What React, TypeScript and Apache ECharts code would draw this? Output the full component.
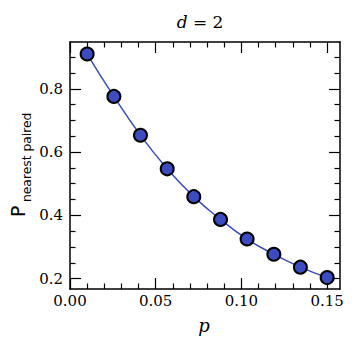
import React, { useEffect, useRef } from "react";
import * as echarts from "echarts";

const pValues = [0.01, 0.0256, 0.0411, 0.0567, 0.0722, 0.0878, 0.1033, 0.1189, 0.1344, 0.15];
const probValues = [0.91, 0.776, 0.653, 0.547, 0.459, 0.387, 0.325, 0.277, 0.236, 0.203];
const xMajorTicks = [0, 0.05, 0.1, 0.15];
const xMinorTicks = [0.01, 0.02, 0.03, 0.04, 0.06, 0.07, 0.08, 0.09, 0.11, 0.12, 0.13, 0.14];
const yMajorTicks = [0.2, 0.4, 0.6, 0.8];
const yMinorTicks = [0.25, 0.3, 0.35, 0.45, 0.5, 0.55, 0.65, 0.7, 0.75, 0.85, 0.9];
const xLabels = ["0.00", "0.05", "0.10", "0.15"];
const yLabels = ["0.2", "0.4", "0.6", "0.8"];

const X_MIN = 0;
const X_MAX = 0.1575;
const Y_MIN = 0.167;
const Y_MAX = 0.948;

const BLUE = "#3b4cc0";
const SERIF = "DejaVu Serif";
const SANS = "DejaVu Sans";

export default function App() {
  const ref = useRef<HTMLDivElement>(null);
  useEffect(() => {
    document.body.style.margin = "0";
    if (!ref.current) return;
    const chart = echarts.init(ref.current, null, { renderer: "svg" });
    const gridRect = { left: 70, right: 17, top: 42, bottom: 59 };
    const lineStyle = { color: "#000", width: 1.5 };
    const mkX = (gridIndex: number, position: string, ticks: number[], len: number, labels: boolean) => ({
      type: "value",
      gridIndex,
      position,
      min: X_MIN,
      max: X_MAX,
      axisLine: { show: gridIndex === 0, onZero: false, lineStyle },
      axisTick: { show: true, inside: true, length: len, customValues: ticks, lineStyle: { color: "#000", width: 1.2 } },
      axisLabel: labels
        ? {
            show: true,
            customValues: xMajorTicks,
            formatter: (v: number) => xLabels[xMajorTicks.findIndex((t) => Math.abs(t - v) < 1e-9)] ?? "",
            fontFamily: SERIF,
            fontSize: 15,
            color: "#000",
            margin: 4,
          }
        : { show: false },
      splitLine: { show: false },
    });
    const mkY = (gridIndex: number, position: string, ticks: number[], len: number, labels: boolean) => ({
      type: "value",
      gridIndex,
      position,
      min: Y_MIN,
      max: Y_MAX,
      axisLine: { show: gridIndex === 0, onZero: false, lineStyle },
      axisTick: { show: true, inside: true, length: len, customValues: ticks, lineStyle: { color: "#000", width: 1.2 } },
      axisLabel: labels
        ? {
            show: true,
            customValues: yMajorTicks,
            formatter: (v: number) => yLabels[yMajorTicks.findIndex((t) => Math.abs(t - v) < 1e-9)] ?? "",
            fontFamily: SERIF,
            fontSize: 15,
            color: "#000",
            margin: 7,
          }
        : { show: false },
      splitLine: { show: false },
    });
    chart.setOption({
      animation: false,
      grid: [
        { ...gridRect, containLabel: false },
        { ...gridRect, containLabel: false },
      ],
      xAxis: [
        mkX(0, "bottom", xMajorTicks, 11, true),
        mkX(0, "top", xMajorTicks, 11, false),
        mkX(1, "bottom", xMinorTicks, 5.5, false),
        mkX(1, "top", xMinorTicks, 5.5, false),
      ],
      yAxis: [
        mkY(0, "left", yMajorTicks, 11, true),
        mkY(0, "right", yMajorTicks, 11, false),
        mkY(1, "left", yMinorTicks, 5.5, false),
        mkY(1, "right", yMinorTicks, 5.5, false),
      ],
      series: [
        {
          type: "line",
          xAxisIndex: 0,
          yAxisIndex: 0,
          data: pValues.map((p, i) => [p, probValues[i]]),
          smooth: true,
          symbol: "circle",
          symbolSize: 13,
          lineStyle: { color: BLUE, width: 1.5 },
          itemStyle: { color: BLUE, borderColor: "#000", borderWidth: 2 },
          z: 5,
        },
      ],
      graphic: [
        {
          type: "text",
          x: 200,
          y: 22,
          style: {
            text: "{i|d} = 2",
            fontFamily: SERIF,
            fontSize: 17,
            fill: "#000",
            align: "center",
            verticalAlign: "middle",
            rich: { i: { fontFamily: SERIF, fontStyle: "italic", fontSize: 17, fill: "#000" } },
          },
        },
        {
          type: "text",
          x: 204,
          y: 325,
          style: {
            text: "p",
            fontFamily: SERIF,
            fontStyle: "italic",
            fontSize: 18,
            fill: "#000",
            align: "center",
            verticalAlign: "middle",
          },
        },
        {
          type: "text",
          x: 18,
          y: 217,
          rotation: Math.PI / 2,
          style: {
            text: "P",
            fontFamily: SANS,
            fontSize: 19,
            fill: "#000",
            align: "left",
            verticalAlign: "middle",
          },
        },
        {
          type: "text",
          x: 27,
          y: 202,
          rotation: Math.PI / 2,
          style: {
            text: "nearest paired",
            fontFamily: SANS,
            fontSize: 12.3,
            fill: "#000",
            align: "left",
            verticalAlign: "middle",
          },
        },
      ],
    });
    return () => chart.dispose();
  }, []);
  return <div ref={ref} style={{ width: 357, height: 348 }} />;
}
